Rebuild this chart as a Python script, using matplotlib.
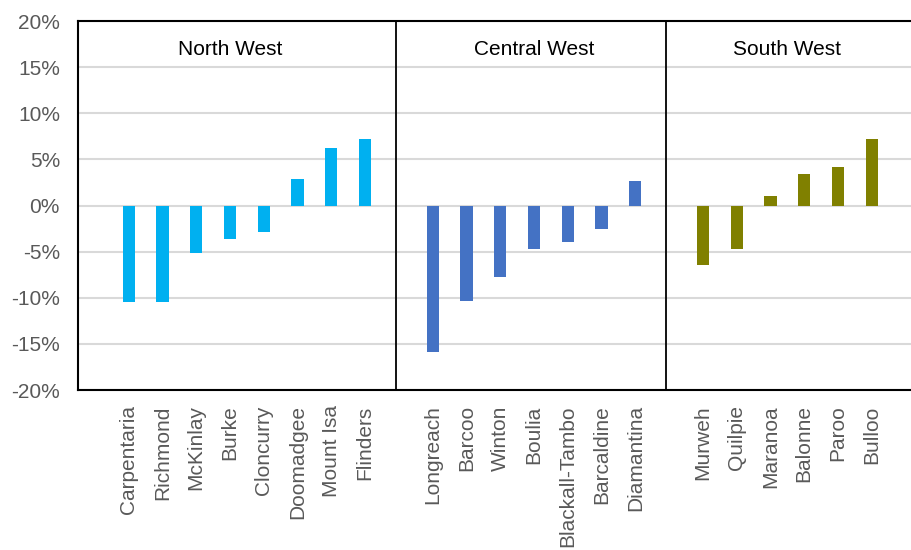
import numpy as np
import matplotlib
matplotlib.use("Agg")
import matplotlib.pyplot as plt
from matplotlib.ticker import PercentFormatter

plt.rcParams['font.family'] = ['Liberation Sans', 'DejaVu Sans']
plt.rcParams['axes.unicode_minus'] = False

# Datos por región (cambio %)
nw_names = ['Carpentaria', 'Richmond', 'McKinlay', 'Burke', 'Cloncurry',
            'Doomadgee', 'Mount Isa', 'Flinders']
nw_vals = [-10.5, -10.5, -5.1, -3.6, -2.9, 2.9, 6.2, 7.2]

cw_names = ['Longreach', 'Barcoo', 'Winton', 'Boulia', 'Blackall-Tambo',
            'Barcaldine', 'Diamantina']
cw_vals = [-15.9, -10.3, -7.7, -4.7, -4.0, -2.5, 2.7]

sw_names = ['Murweh', 'Quilpie', 'Maranoa', 'Balonne', 'Paroo', 'Bulloo']
sw_vals = [-6.4, -4.7, 1.0, 3.4, 4.2, 7.2]

region_titles = ['North West', 'Central West', 'South West']
colors = ['#00B0F0', '#4472C4', '#808000']

fig = plt.figure(figsize=(9.11, 5.5), dpi=100)
ax = fig.add_axes([0.0856, 0.2909, 0.927, 0.6709])

# posiciones: un hueco vacío antes de cada grupo
groups = [(nw_names, nw_vals), (cw_names, cw_vals), (sw_names, sw_vals)]
ticks, labels = [], []
start = 1
seps, centers = [], []
for (names, vals), c in zip(groups, colors):
    x = np.arange(start, start + len(names))
    ax.bar(x, vals, width=0.36, color=c, zorder=3)
    ticks += list(x)
    labels += names
    centers.append((x[0] + x[-1]) / 2)
    seps.append(x[-1] + 0.9)
    start = x[-1] + 2

ax.set_xlim(-0.5, start - 0.5)
ax.set_ylim(-20, 20)
ax.set_yticks(np.arange(-20, 21, 5))
ax.yaxis.set_major_formatter(PercentFormatter(decimals=0))
ax.set_xticks(ticks)
ax.set_xticklabels(labels, rotation=90)
ax.tick_params(axis='both', length=0, labelsize=15, labelcolor='#595959')
ax.tick_params(axis='y', pad=13)
ax.tick_params(axis='x', pad=11)

ax.grid(axis='y', color='#D9D9D9', linewidth=1.5, zorder=0)
for s in seps[:2]:
    ax.axvline(s, color='black', linewidth=1.3, zorder=4)

centers[0] -= 0.5
for cx, t in zip(centers, region_titles):
    ax.text(cx, 16.3, t, ha='center', va='baseline', fontsize=15, color='black')

for side in ['left', 'top', 'bottom']:
    ax.spines[side].set_linewidth(1.5)
    ax.spines[side].set_color('black')
ax.spines['right'].set_visible(False)

fig.savefig('out.png', dpi=100)
